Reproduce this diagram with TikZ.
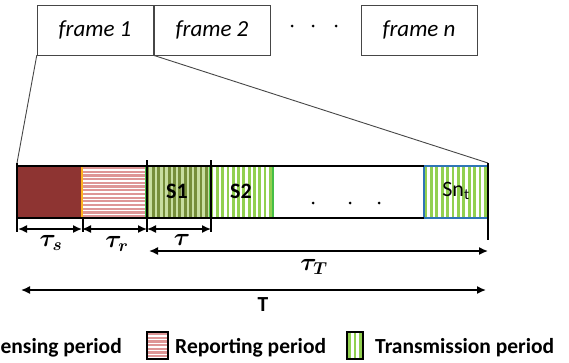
\documentclass[tikz,border=0pt]{standalone}
\usepackage{fontspec}
\setmainfont{Carlito}
\usepackage{amsmath,bm}
\usetikzlibrary{arrows.meta}
\definecolor{sensred}{RGB}{142,52,50}
\definecolor{sensblue}{RGB}{46,117,182}
\definecolor{reppink}{RGB}{222,150,150}
\definecolor{reporange}{RGB}{255,180,30}
\definecolor{txolive}{RGB}{118,142,58}
\definecolor{txpale}{RGB}{200,222,160}
\definecolor{txgreen}{RGB}{146,208,80}
\definecolor{txedge}{RGB}{70,190,70}
\definecolor{framegray}{RGB}{70,70,70}
\tikzset{
 framebox/.style={draw=framegray, minimum width=116pt, minimum height=50pt,
   inner sep=0pt, font=\fontsize{23}{27}\selectfont\itshape},
 legtext/.style={font=\fontsize{21.5}{25}\selectfont\bfseries, inner sep=0pt},
 slotlabel/.style={font=\fontsize{22}{26}\selectfont\bfseries, inner sep=0pt},
 tautext/.style={font=\fontsize{26}{30}\selectfont, inner sep=0pt},
 span/.style={{Latex[length=9pt,width=8pt]}-{Latex[length=9pt,width=8pt]}, line width=1.5pt},
 bound/.style={line width=1.8pt}
}
\begin{document}
\begin{tikzpicture}[x=1pt,y=-1pt]
\useasboundingbox (0,0) rectangle (569,362);

% frames
\node[framebox] (f1) at (95,30) {frame 1};
\node[framebox] (f2) at (212,30) {frame 2};
\node[framebox] (fn) at (419,30) {frame n};
\foreach \x in {292,313,336} \fill (\x,26) circle (1.5);

\coordinate (barl) at (17,163);
\coordinate (barr) at (488,163);
\draw[framegray, line width=0.9pt] (f1.south west) -- (barl);
\draw[framegray, line width=0.9pt] (f1.south east) -- (barr);

% slots
\draw[draw=sensblue, fill=sensred, line width=1.4pt] (17,166) rectangle (82,218);
\begin{scope}
 \clip (82,166) rectangle (146,218);
 \foreach \y in {168,171.7,...,220} \draw[reppink, line width=2.2pt] (82,\y) -- (146,\y);
\end{scope}
\draw[reporange, line width=1.4pt] (82,166) rectangle (146,218);
\begin{scope}
 \clip (146,166) rectangle (210,218);
 \fill[txpale] (146,166) rectangle (210,218);
 \foreach \x in {148,153.3,...,212} \draw[txolive, line width=2.8pt] (\x,166) -- (\x,218);
\end{scope}
\draw[txedge, line width=1.4pt] (146,166) rectangle (210,218);
\begin{scope}
 \clip (210,166) rectangle (273,218);
 \foreach \x in {212,217.3,...,275} \draw[txgreen, line width=2.8pt] (\x,166) -- (\x,218);
\end{scope}
\draw[txedge, line width=1.4pt] (210,166) rectangle (273,218);
\begin{scope}
 \clip (424,166) rectangle (488,218);
 \foreach \x in {426,431.4,...,490} \draw[txgreen, line width=2.8pt] (\x,166) -- (\x,218);
\end{scope}
\draw[sensblue, line width=1.4pt] (424,166) rectangle (488,218);

\draw[line width=1.1pt] (17,166) -- (424,166) (17,218) -- (424,218);
\node[slotlabel] (s1) at (177,191) {S1};
\node[slotlabel] (s2) at (241,191) {S2};
\node[slotlabel] (snt) at (456,191) {\mdseries Sn\textsubscript{t}};
\foreach \x in {313,350,379} \fill (\x,203) circle (1.5);

% boundaries and spans
\draw[bound] (barl) -- (17,232);
\draw[bound] (147,160) -- (147,232);
\draw[bound] (211,160) -- (211,232);
\draw[bound] (barr) -- (488,240);
\draw[line width=1.4pt] (83,218) -- (83,232);
\coordinate (b0) at (18,229);
\coordinate (b1) at (82,229);
\coordinate (b2) at (147,229);
\coordinate (b3) at (211,229);
\draw[span] (b0) -- (b1);
\draw[span] (b1) -- (b2);
\draw[span] (b2) -- (b3);
\draw[span] (149,251) -- (488,251);
\draw[span] (21,290) -- (486,290);

\node[tautext] (taus) at (51,243) {$\bm{\tau_s}$};
\node[tautext] (taur) at (117,244) {$\bm{\tau_r}$};
\node[tautext] (tau) at (182,240) {$\bm{\tau}$};
\node[tautext] (tauT) at (314,267) {$\bm{\tau_T}$};
\node[legtext] (Tlab) at (263,305) {T};

% legend
\node[legtext, anchor=east] (lsens) at (122,348) {Sensing period};
\begin{scope}
 \clip (147,332) rectangle (168,359);
 \foreach \y in {334,337.7,...,360} \draw[reppink, line width=2.2pt] (147,\y) -- (168,\y);
\end{scope}
\draw[line width=1.2pt] (147,332) rectangle (168,359);
\node[legtext, anchor=west] (lrep) at (175,348) {Reporting period};
\begin{scope}
 \clip (347,332) rectangle (363,359);
 \foreach \x in {349.5,355,...,364} \draw[txgreen, line width=2.8pt] (\x,332) -- (\x,359);
\end{scope}
\draw[line width=1.2pt] (347,332) rectangle (363,359);
\node[legtext, anchor=west] (ltx) at (375,348) {Transmission period};
\end{tikzpicture}
\end{document}
